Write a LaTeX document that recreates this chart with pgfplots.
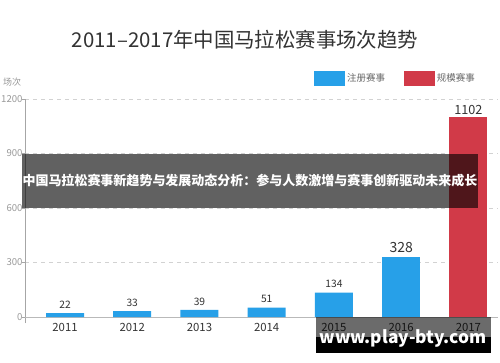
\documentclass[border=0pt]{standalone}
\usepackage{fontspec}
\setmainfont{Noto Sans CJK SC}
\usepackage{pgfplots}
\pgfplotsset{compat=1.18}
\definecolor{blue1}{HTML}{27A0E8}
\definecolor{red1}{HTML}{D13A48}
\definecolor{txt}{HTML}{333333}
\definecolor{ltxt}{HTML}{999999}
\definecolor{legtxt}{HTML}{666666}
\begin{document}
\begin{tikzpicture}[x=0.75pt,y=0.75pt]
\fill[white] (0,0) rectangle (500,362);
\path[use as bounding box] (0,0) rectangle (500,362);
\begin{axis}[
  at={(18.75pt,29.25pt)}, anchor=south west,
  scale only axis, width=354.75pt, height=168pt,
  xmin=-0.595, xmax=6.44, ymin=-33, ymax=1200,
  axis y line*=left, axis x line*=bottom,
  x axis line style={draw=none},
  y axis line style={draw=gray!70},
  xtick={0,1,2,3,4,5,6},
  xticklabels={2011,2012,2013,2014,2015,2016,2017},
  xtick style={draw=none},
  xticklabel style={font=\fontsize{8.5}{10}\selectfont, text=txt, yshift=5.5pt},
  ytick={300,600,900,1200},
  yticklabel style={font=\fontsize{7.2}{9}\selectfont, text=ltxt, xshift=4.2pt},
  ytick style={draw=gray!70},
  tick align=outside, major tick length=2.5pt,
  ymajorgrids, major grid style={dashed, draw=gray!35},
  extra y ticks={0},
  extra y tick style={grid=major, major grid style={solid, draw=gray!55}},
  /pgf/number format/assume math mode=true,
  /pgf/number format/1000 sep={},
  ybar, bar width=28.5pt, bar shift=0pt,
  legend style={at={(0.602,1.138)}, anchor=north west, draw=none, fill=none,
    legend columns=2, font=\fontsize{7.1}{9}\selectfont, text=legtxt,
    /tikz/every even column/.append style={column sep=12pt}},
  clip=false,
]
\addlegendimage{legend image code/.code={\fill[blue1] (0pt,-5.25pt) rectangle (22.5pt,5.25pt);}}
\addlegendentry{注册赛事}
\addlegendimage{legend image code/.code={\fill[red1] (0pt,-5.25pt) rectangle (22.5pt,5.25pt);}}
\addlegendentry{规模赛事}
\addplot[fill=blue1, draw=none, nodes near coords,
  every node near coord/.style={font=\fontsize{7.7}{9}\selectfont, text=txt, /pgf/number format/assume math mode=true, /pgf/number format/1000 sep={}}]
  coordinates {(0,22) (1,33) (2,39) (3,51) (4,134)};
\addplot[fill=blue1, draw=none, nodes near coords,
  every node near coord/.style={font=\fontsize{10.5}{12}\selectfont, text=txt, /pgf/number format/assume math mode=true, /pgf/number format/1000 sep={}}]
  coordinates {(5,328)};
\addplot[fill=red1, draw=none, nodes near coords,
  every node near coord/.style={font=\fontsize{9.5}{11}\selectfont, text=txt, yshift=-2pt, /pgf/number format/assume math mode=true, /pgf/number format/1000 sep={}}]
  coordinates {(6,1102)};
\end{axis}
% title and y label
\node[font=\fontsize{15.3}{17}\selectfont, text=txt] at (245,322) {2011–2017年中国马拉松赛事场次趋势};
\node[font=\fontsize{6.75}{8}\selectfont, text=ltxt] at (12,280) {场次};
% banner
\fill[black, opacity=0.62] (22,154) rectangle (478,208);
\node[font=\bfseries\fontsize{9.75}{11}\selectfont, text=white] at (250,181) {中国马拉松赛事新趋势与发展动态分析：参与人数激增与赛事创新驱动未来成长};
% watermark
\fill[black, opacity=0.58] (316,25) rectangle (491,45);
\fill[black] (316,9) rectangle (491,25);
\node[font=\bfseries\fontsize{13}{15}\selectfont, text=white, anchor=base] at (403,19) {www.play-bty.com};
\end{tikzpicture}
\end{document}
